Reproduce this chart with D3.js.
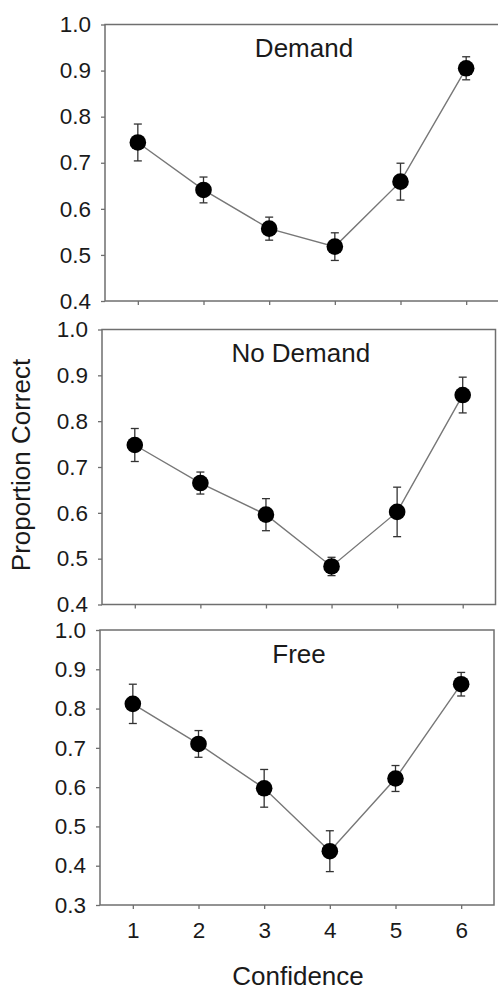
<!DOCTYPE html>
<html>
<head>
<meta charset="utf-8">
<script src="https://cdn.jsdelivr.net/npm/d3@7"></script>
<style>
  html, body { margin: 0; padding: 0; background: #fff; }
  svg { display: block; }
  text { font-family: "Liberation Sans", Arial, sans-serif; fill: #1a1a1a; }
</style>
</head>
<body>
<svg id="chart" width="498" height="991"></svg>
<script>
// ---- data ----
const confidence = [1, 2, 3, 4, 5, 6];
const panelTitles = ["Demand", "No Demand", "Free"];
const demandMean = [0.744, 0.641, 0.557, 0.518, 0.659, 0.905];
const demandErr  = [0.040, 0.028, 0.025, 0.030, 0.040, 0.025];
const noDemandMean = [0.748, 0.665, 0.596, 0.483, 0.602, 0.857];
const noDemandErr  = [0.036, 0.024, 0.035, 0.020, 0.054, 0.039];
const freeMean = [0.812, 0.710, 0.597, 0.437, 0.622, 0.862];
const freeErr  = [0.050, 0.034, 0.048, 0.052, 0.033, 0.030];
const yTicksTop = [0.4, 0.5, 0.6, 0.7, 0.8, 0.9, 1.0];
const yTicksBottom = [0.3, 0.4, 0.5, 0.6, 0.7, 0.8, 0.9, 1.0];
const xLabel = "Confidence";
const yLabel = "Proportion Correct";

const panels = [
  { title: panelTitles[0], mean: demandMean, err: demandErr, yDomain: [0.4, 1.0], yTicks: yTicksTop,
    left: 105, top: 24.5, width: 394, height: 276.5, showX: false },
  { title: panelTitles[1], mean: noDemandMean, err: noDemandErr, yDomain: [0.4, 1.0], yTicks: yTicksTop,
    left: 102, top: 329.5, width: 393.5, height: 275, showX: false },
  { title: panelTitles[2], mean: freeMean, err: freeErr, yDomain: [0.3, 1.0], yTicks: yTicksBottom,
    left: 100, top: 630, width: 394, height: 275, showX: true }
];

const svg = d3.select("#chart");
const frameColor = "#6f6f6f";
const tickFont = "22.5px";

panels.forEach(p => {
  const g = svg.append("g").attr("transform", `translate(${p.left},${p.top})`);
  const x = d3.scaleLinear().domain([0.5, 6.5]).range([0, p.width]);
  const y = d3.scaleLinear().domain(p.yDomain).range([p.height, 0]);

  // frame
  g.append("rect")
    .attr("x", 0).attr("y", 0).attr("width", p.width).attr("height", p.height)
    .attr("fill", "none").attr("stroke", frameColor).attr("stroke-width", 1.5);

  // y axis
  const yAxis = g.append("g").call(
    d3.axisLeft(y).tickValues(p.yTicks).tickFormat(d3.format(".1f")).tickSize(4).tickPadding(10)
  );
  yAxis.select(".domain").remove();
  yAxis.selectAll("line").attr("stroke", frameColor).attr("stroke-width", 1.3);
  yAxis.selectAll("text").style("font-size", tickFont).attr("fill", "#1a1a1a")
    .style("font-family", '"Liberation Sans", Arial, sans-serif');

  // x axis
  const xAxis = g.append("g").attr("transform", `translate(0,${p.height})`).call(
    d3.axisBottom(x).tickValues(confidence).tickFormat(p.showX ? d3.format("d") : () => "")
      .tickSize(4).tickPadding(13)
  );
  xAxis.select(".domain").remove();
  xAxis.selectAll("line").attr("stroke", frameColor).attr("stroke-width", 1.3);
  xAxis.selectAll("text").style("font-size", tickFont).attr("fill", "#1a1a1a")
    .style("font-family", '"Liberation Sans", Arial, sans-serif');

  // title
  g.append("text")
    .attr("x", x(3.5) + 2).attr("y", p === panels[2] ? 33 : 32.5)
    .attr("text-anchor", "middle")
    .style("font-size", "26px")
    .text(p.title);

  const data = confidence.map((c, i) => ({ c, m: p.mean[i], e: p.err[i] }));

  // connecting line
  g.append("path")
    .datum(data)
    .attr("fill", "none").attr("stroke", "#777").attr("stroke-width", 1.4)
    .attr("d", d3.line().x(d => x(d.c)).y(d => y(d.m)));

  // error bars
  const eb = g.append("g").attr("stroke", "#333").attr("stroke-width", 1.3);
  eb.selectAll("line.v").data(data).join("line").attr("class", "v")
    .attr("x1", d => x(d.c)).attr("x2", d => x(d.c))
    .attr("y1", d => y(d.m + d.e)).attr("y2", d => y(d.m - d.e));
  eb.selectAll("line.t").data(data).join("line").attr("class", "t")
    .attr("x1", d => x(d.c) - 4).attr("x2", d => x(d.c) + 4)
    .attr("y1", d => y(d.m + d.e)).attr("y2", d => y(d.m + d.e));
  eb.selectAll("line.b").data(data).join("line").attr("class", "b")
    .attr("x1", d => x(d.c) - 4).attr("x2", d => x(d.c) + 4)
    .attr("y1", d => y(d.m - d.e)).attr("y2", d => y(d.m - d.e));

  // markers
  g.selectAll("circle").data(data).join("circle")
    .attr("cx", d => x(d.c)).attr("cy", d => y(d.m)).attr("r", 8.3)
    .attr("fill", "#000");
});

// axis titles
svg.append("text")
  .attr("transform", "translate(30,465) rotate(-90)")
  .attr("text-anchor", "middle")
  .style("font-size", "26px")
  .text(yLabel);

svg.append("text")
  .attr("x", 298).attr("y", 985)
  .attr("text-anchor", "middle")
  .style("font-size", "26px")
  .text(xLabel);
</script>
</body>
</html>
